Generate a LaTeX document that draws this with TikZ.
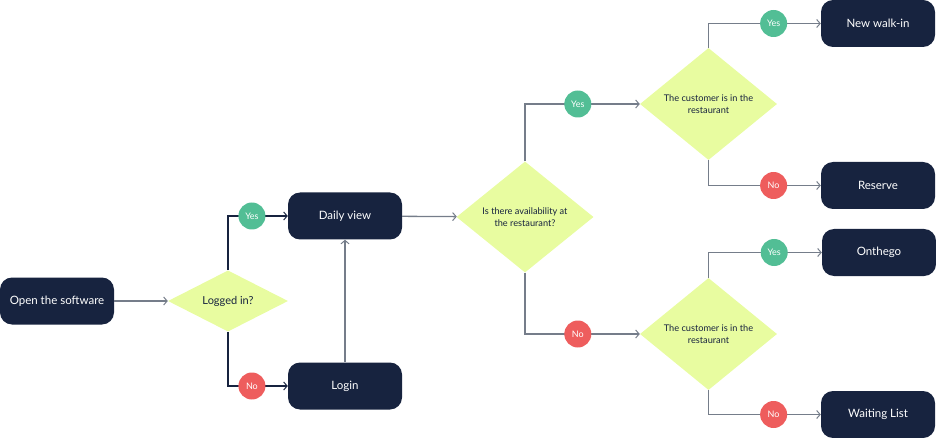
\documentclass[tikz,border=0pt]{standalone}
\usepackage{fontspec}
\setmainfont{Lato}
\usetikzlibrary{shapes.geometric,arrows.meta}

\definecolor{navy}{HTML}{17233F}
\definecolor{lime}{HTML}{E8FCA0}
\definecolor{okgreen}{HTML}{52BE95}
\definecolor{nored}{HTML}{EE5D5D}
\definecolor{wire}{HTML}{757D8A}

\tikzset{
    stepbox/.style={fill=navy, text=white, rounded corners=12pt, minimum width=114pt,
        minimum height=47pt, font=\fontsize{11.5}{13}\selectfont},
    choice/.style={diamond, fill=lime, text=navy, inner sep=0pt, align=center},
    yesdot/.style={circle, fill=okgreen, text=white, minimum size=27pt, inner sep=0pt,
        font=\fontsize{9}{10}\selectfont},
    nodot/.style={circle, fill=nored, text=white, minimum size=27pt, inner sep=0pt,
        font=\fontsize{9}{10}\selectfont},
    flow/.style={draw=wire, line width=1.3pt, -{Straight Barb[length=3.5pt, width=8pt, line width=1pt]}},
    darkflow/.style={flow, draw=navy}
}

\begin{document}
\begin{tikzpicture}[x=1pt, y=-1pt]
    \useasboundingbox (0, 0) rectangle (936, 438);

    % Boxes
    \node[stepbox] (open) at (57, 301) {Open the software};
    \node[stepbox] (daily) at (345, 216) {Daily view};
    \node[stepbox] (login) at (345, 386) {Login};
    \node[stepbox] (walkin) at (878, 23.5) {New walk-in};
    \node[stepbox] (reserve) at (878, 185.5) {Reserve};
    \node[stepbox] (onthego) at (879, 252.5) {Onthego};
    \node[stepbox] (waiting) at (878, 414.5) {Waiting List};

    % Decisions
    \node[choice, minimum width=120pt, minimum height=54pt, font=\fontsize{11}{13}\selectfont]
        (logged) at (228, 301) {Logged in?};
    \node[choice, minimum width=137pt, minimum height=111pt, font=\fontsize{9.2}{12.5}\selectfont]
        (avail) at (525, 217) {Is there availability at\\the restaurant?};
    \node[choice, minimum width=137pt, minimum height=112pt, font=\fontsize{9.2}{12.5}\selectfont]
        (inside) at (708.5, 104) {The customer is in the\\restaurant};
    \node[choice, minimum width=137pt, minimum height=112pt, font=\fontsize{9.2}{12.5}\selectfont]
        (inside2) at (708.5, 334) {The customer is in the\\restaurant};

    % Connectors
    \draw[flow] (open) -- (logged);
    \draw[darkflow] (logged.north) |- (daily.west) node[yesdot, pos=0.7] {Yes};
    \draw[darkflow] (logged.south) |- (login.west) node[nodot, pos=0.7] {No};
    \draw[flow] (login) -- (daily);
    \draw[flow] (daily) -- (avail);
    \draw[flow] (avail.north) |- (inside.west) node[yesdot, pos=0.73] {Yes};
    \draw[flow] (avail.south) |- (inside2.west) node[nodot, pos=0.73] {No};
    \draw[flow] (inside.north) |- (walkin.west) node[yesdot, pos=0.79] {Yes};
    \draw[flow] (inside.south) |- (reserve.west) node[nodot, pos=0.79] {No};
    \draw[flow] (inside2.north) |- (onthego.west) node[yesdot, pos=0.79] {Yes};
    \draw[flow] (inside2.south) |- (waiting.west) node[nodot, pos=0.79] {No};
\end{tikzpicture}
\end{document}
